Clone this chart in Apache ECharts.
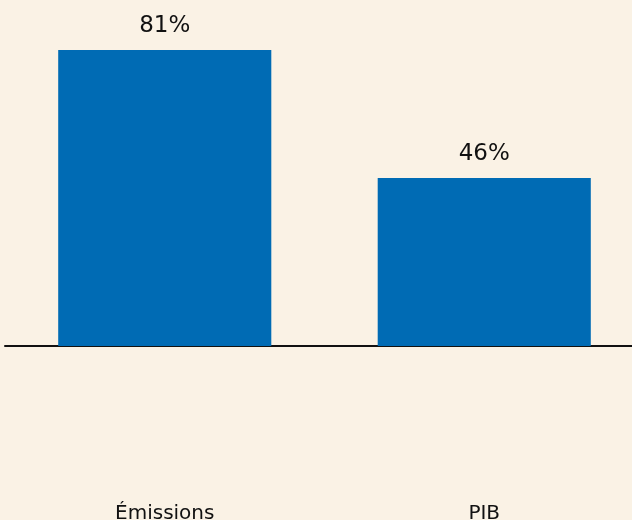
<!DOCTYPE html>
<html>
<head>
<meta charset="utf-8">
<style>
  html, body { margin: 0; padding: 0; background: #faf2e5; }
  #chart { width: 632px; height: 520px; }
</style>
<script src="https://cdn.jsdelivr.net/npm/echarts@6/dist/echarts.min.js"></script>
</head>
<body>
<div id="chart"></div>
<script>
// Share of the total, in percent
const categories = ['Émissions', 'PIB'];
const values = [81, 46];

const chart = echarts.init(document.getElementById('chart'), null, { renderer: 'canvas' });
chart.setOption({
  backgroundColor: '#faf2e5',
  animation: false,
  grid: { left: 5, top: 50, width: 639, height: 296, outerBoundsMode: 'none', containLabel: false },
  xAxis: {
    type: 'category',
    data: categories,
    axisLine: { show: true, lineStyle: { color: '#111111', width: 2 } },
    axisTick: { show: false },
    axisLabel: {
      margin: 158,
      color: '#111111',
      fontSize: 20,
      fontFamily: 'DejaVu Sans, sans-serif'
    }
  },
  yAxis: {
    type: 'value',
    min: 0,
    max: 81,
    show: false,
    splitLine: { show: false }
  },
  series: [{
    type: 'bar',
    data: values,
    barWidth: '66.7%',
    itemStyle: { color: '#006bb4' },
    label: {
      show: true,
      position: 'top',
      distance: 12,
      formatter: '{c}%',
      color: '#111111',
      fontSize: 23,
      fontFamily: 'DejaVu Sans, sans-serif'
    }
  }]
});
</script>
</body>
</html>
